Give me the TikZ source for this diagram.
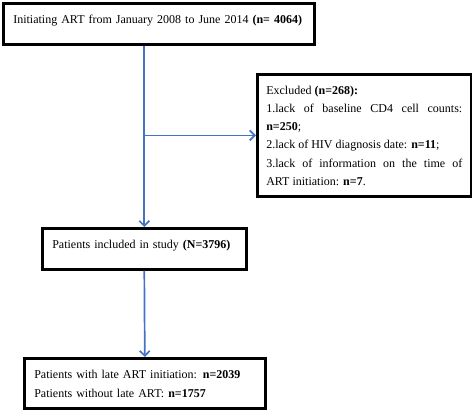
\documentclass[tikz,border=0pt]{standalone}
\usepackage{fontspec}
\setmainfont{Liberation Serif}
\usetikzlibrary{arrows.meta}
\definecolor{flowblue}{RGB}{68,114,196}
\tikzset{
  box/.style={draw,line width=2.6pt,anchor=north west,align=left,inner xsep=10pt,inner ysep=11pt,text height=9pt,font=\fontsize{12}{19}\selectfont},
  flow/.style={draw=flowblue,line width=1.7pt,-{Straight Barb[length=5pt,width=10pt]}}
}
\begin{document}
\begin{tikzpicture}[x=1pt,y=-1pt]
		\useasboundingbox (0,0) rectangle (472,414);
		\node[box,text width=291pt,text depth=10pt] (start) at (2,2) {Initiating ART from January 2008 to June 2014 \textbf{(n=~4064)}};
		\node[box,text width=184pt,text depth=10pt] (incl) at (41,227) {Patients included in study \textbf{(N=3796)}};
		\node[box,text width=196pt,inner xsep=9pt,align=justify,font=\fontsize{12}{18.2}\selectfont] (excl) at (256,73) {Excluded \textbf{(n=268):}\\1.lack of baseline CD4 cell counts:\linebreak\textbf{n=250};\\2.lack of HIV diagnosis date: \textbf{n=11};\\3.lack of information on the time of\linebreak ART initiation: \textbf{n=7}.};
		\node[box,text width=221pt] (late) at (23,357) {Patients with late ART initiation: \textbf{n=2039}\\Patients without late ART: \textbf{n=1757}};
		\draw[flow] (start.south -| incl.north) -- (incl.north);
		\draw[flow] (excl.west -| incl.north) -- (excl.west);
		\draw[flow] (incl.south) -- (late.north);
\end{tikzpicture}
\end{document}
